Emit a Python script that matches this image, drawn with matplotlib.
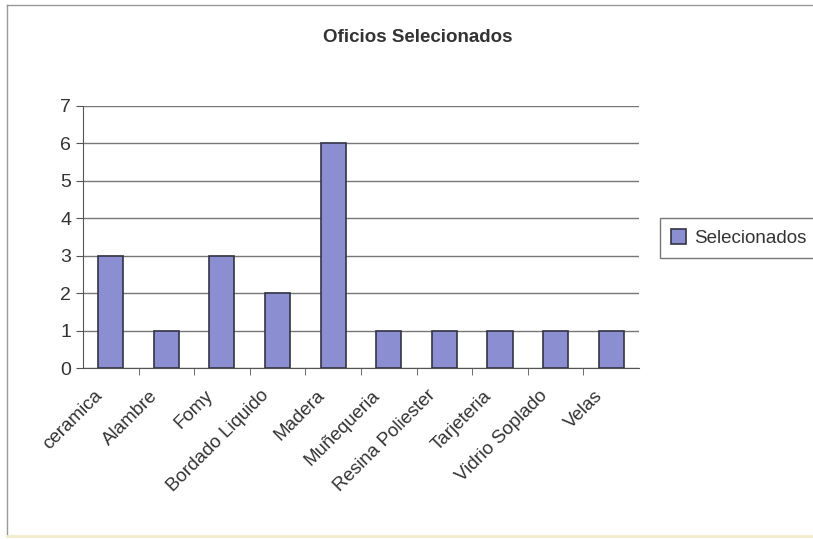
import matplotlib.pyplot as plt
import matplotlib.transforms as mtransforms
from matplotlib.lines import Line2D

plt.rcParams['font.family'] = ['Liberation Sans', 'DejaVu Sans']

oficios = ['ceramica', 'Alambre', 'Fomy', 'Bordado Liquido', 'Madera',
           'Muñequeria', 'Resina Poliester', 'Tarjeteria', 'Vidrio Soplado', 'Velas']
selecionados = [3, 1, 3, 2, 6, 1, 1, 1, 1, 1]

fig = plt.figure(figsize=(8.13, 5.39), dpi=100)
ax = fig.add_axes([0.102, 0.317, 0.684, 0.487])

x = list(range(len(oficios)))
bars = ax.bar(x, selecionados, width=0.45, color='#8c8ed2', edgecolor='#333344',
              linewidth=1.2, label='Selecionados', zorder=3)

ax.set_xlim(-0.5, len(oficios) - 0.5)
ax.set_ylim(0, 7)
ax.set_yticks(range(0, 8))
ax.yaxis.grid(True, color='#777777', linewidth=1.0, zorder=0)
ax.set_xticks(x)
ax.set_xticklabels(oficios, rotation=45, ha='right', va='center',
                   rotation_mode='anchor', fontsize=13.5, color='#333333')
ax.tick_params(axis='x', length=0, pad=18)
shift = mtransforms.ScaledTranslation(-11 / 100, 0, fig.dpi_scale_trans)
for lbl in ax.get_xticklabels():
    lbl.set_transform(lbl.get_transform() + shift)
ax.set_xticks([i + 0.5 for i in x[:-1]], minor=True)
ax.tick_params(axis='x', which='minor', length=5, color='#555555')
ax.tick_params(axis='y', labelsize=14, length=5, color='#555555', labelcolor='#333333')

for s in ['top', 'right']:
    ax.spines[s].set_visible(False)
ax.spines['left'].set_color('#555555')
ax.spines['bottom'].set_color('#555555')

fig.text(0.514, 0.93, 'Oficios Selecionados', ha='center', va='center',
         fontsize=13.5, fontweight='bold', color='#333333')

leg = fig.legend(handles=[bars], labels=['Selecionados'], loc='center left',
                 bbox_to_anchor=(0.812, 0.558), fontsize=13.5, frameon=True,
                 fancybox=False, edgecolor='#555555', handlelength=0.8,
                 handleheight=0.8, borderpad=0.6, handletextpad=0.4,
                 borderaxespad=0)
leg.get_frame().set_linewidth(1.0)
for t in leg.get_texts():
    t.set_color('#333333')

# chart area border (right side cut off in the reference)
fig.add_artist(Line2D([0.009, 1.0], [0.991, 0.991], transform=fig.transFigure,
                      color='#999999', linewidth=1.0))
fig.add_artist(Line2D([0.009, 0.009], [0.006, 0.991], transform=fig.transFigure,
                      color='#999999', linewidth=1.0))
fig.add_artist(Line2D([0.009, 1.0], [0.006, 0.006], transform=fig.transFigure,
                      color='#f3eccc', linewidth=2.0))

fig.savefig('out.png', dpi=100)
